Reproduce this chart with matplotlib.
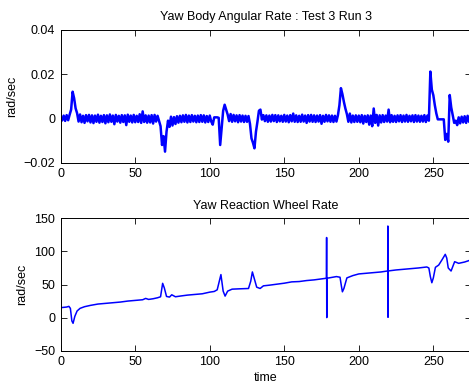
import matplotlib
matplotlib.use("Agg")
import matplotlib.pyplot as plt
import numpy as np

plt.rcParams['font.family'] = ['Liberation Sans', 'DejaVu Sans']
plt.rcParams['font.size'] = 9

# ---------------------------------------------------------------------------
# Data
# ---------------------------------------------------------------------------

# yaw body angular rate, one sample per second (t = 0..275), in milli-rad/sec
body_t = np.arange(0, 276)
body_rate_milli = [
    0.6, -0.9, 1.3, -1.1, 1.5, -0.8, 1.7, 4.0, 12.1, 9.2,        # 0
    4.6, 2.4, -1.4, 1.8, -1.7, 1.2, -2.0, 1.5, -1.3, 1.6,        # 10
    -1.8, 1.4, -2.1, 1.3, -1.5, 1.7, -1.9, 1.2, -1.6, 1.5,       # 20
    -2.2, 1.4, -1.7, 1.8, -1.5, 1.3, -2.6, 1.6, -1.4, 1.2,       # 30
    -1.9, 1.5, -1.6, 1.4, -3.0, 1.7, -1.5, 1.3, -1.8, 1.6,       # 40
    -1.7, 1.2, -1.6, 1.9, -2.0, 3.2, -1.6, 1.4, -1.9, 1.3,       # 50
    -1.8, 1.5, -2.3, 1.6, -1.4, 1.2, -1.1, -3.5, -12.0, -8.0,    # 60
    -15.0, -6.0, -1.0, -3.8, 0.8, -3.2, 0.6, -2.5, 1.0, -1.9,    # 70
    1.2, -1.7, 1.4, -1.5, 1.6, -1.8, 1.3, -1.6, 1.5, -1.4,       # 80
    1.2, -1.7, 1.3, -1.6, 1.5, -1.5, 1.4, -1.8, 1.1, -1.6,       # 90
    1.3, -1.4, -2.8, 0.5, 0.5, 0.5, 0.3, -12.0, -4.0, 3.5,       # 100
    6.2, 4.0, 1.8, -1.2, 2.0, -1.5, 1.6, -1.3, 1.4, -1.7,        # 110
    1.5, -1.4, 1.3, -1.6, 1.2, -1.5, 1.1, -2.5, -9.0, -11.0,     # 120
    -13.5, -6.0, -1.5, 3.5, 4.0, -0.5, 1.5, -1.2, 1.4, -1.5,     # 130
    1.3, -1.4, 1.6, -1.2, 1.5, -1.6, 1.4, -1.3, 1.2, -1.5,       # 140
    1.6, -1.4, 1.3, -1.7, 1.5, -1.3, 2.2, -1.5, 1.4, -1.6,       # 150
    1.2, -1.5, 1.7, -1.4, 1.3, -2.0, 1.5, -1.4, 1.6, -1.5,       # 160
    1.4, -1.6, 1.3, -1.4, 1.5, -2.4, 1.2, -1.5, 1.6, -1.3,       # 170
    1.4, -1.5, 1.3, -1.6, 1.2, -1.4, 1.5, 6.0, 13.7, 11.0,       # 180
    7.5, 4.5, 2.0, -1.5, 2.2, -1.8, 1.3, -1.6, 1.4, -1.5,        # 190
    1.3, -1.7, 1.5, -2.3, 1.2, -1.6, 1.4, -2.8, 1.3, -3.5,       # 200
    4.5, -2.0, 1.6, -3.2, 1.4, -1.8, 1.5, -1.6, 1.3, -1.4,       # 210
    4.0, -1.7, 1.5, -1.5, 1.2, -1.6, 1.4, -1.3, 1.5, -1.6,       # 220
    1.3, -1.4, 1.6, -1.5, 1.2, -1.3, 1.4, -1.6, 1.5, -1.4,       # 230
    1.3, -1.5, 1.2, -1.4, 1.5, -1.6, 1.3, -1.0, 21.2, 13.0,      # 240
    10.5, 6.0, 2.3, -0.4, -0.4, -0.4, -0.4, -0.4, -9.7, -7.0,    # 250
    -10.5, 10.6, 5.0, 1.5, -2.0, -1.0, -3.0, 0.5, -2.2, 0.8,     # 260
    -1.8, 1.0, -2.0, 1.2, -1.5, -2.0,                            # 270
]
body_rate = np.array(body_rate_milli) * 1e-3

# yaw reaction wheel rate (rad/sec)
wheel_t = [0, 2, 4, 5.5, 6.5, 7.5, 8.3, 9.5, 11, 13, 16, 20, 25, 30, 35, 40,
           45, 50, 55, 57, 59, 62, 65, 67, 68.4, 69.5, 71, 73, 74.5, 77, 80,
           85, 90, 95, 100, 103, 105, 107.5, 109, 110.3, 112, 115, 120, 126,
           127.5, 128.6, 130, 131.5, 133.8, 136, 140, 145, 150, 155, 160, 165,
           170, 175, 178.3, 178.4, 178.5, 178.6, 180, 185, 187.4, 188.3, 189,
           190, 192, 196, 200, 205, 210, 215, 219.4, 219.5, 219.6, 219.7, 225,
           230, 235, 240, 245.6, 247, 248, 249, 250, 251.4, 253.6, 256, 258,
           259, 260, 261.9, 264.3, 267, 271, 275]
wheel_rate = [15, 15.5, 16, 17, 14, -5, -8.6, 2, 10, 14, 16.5, 18.5, 20.5,
              21.5, 22.5, 23.5, 25, 26, 27, 29, 27.5, 28.5, 30, 31.5, 51.8,
              45, 32, 31, 34.5, 31.5, 32.5, 34, 35, 36, 38.5, 39.5, 42, 65,
              40, 32.5, 40, 43, 43.5, 44, 55, 69, 58, 46, 44, 48, 49, 50.5, 52,
              54, 54.5, 56, 57, 58.5, 59.5, 121, 0, 59.5, 60, 62, 61, 48, 39,
              44, 60, 63.5, 66, 67, 68, 69, 70.5, 138.4, 0.5, 70.5, 72, 73, 74,
              75, 76.5, 75, 62, 52.7, 60, 76, 79.4, 88, 95.6, 90, 75, 70.4,
              84.5, 82, 84, 87]

x_ticks = [0, 50, 100, 150, 200, 250]
body_yticks = [-0.02, 0, 0.02, 0.04]
body_ylabels = ['\u22120.02', '0', '0.02', '0.04']
wheel_yticks = [-50, 0, 50, 100, 150]
wheel_ylabels = ['\u221250', '0', '50', '100', '150']

# ---------------------------------------------------------------------------
# Figure
# ---------------------------------------------------------------------------

fig = plt.figure(figsize=(4.69, 3.88), dpi=100)
ax1 = fig.add_axes([0.1294, 0.5807, 0.874, 0.342])
ax2 = fig.add_axes([0.1294, 0.0961, 0.874, 0.3412])


def style(ax):
    ax.tick_params(direction='in', length=4, width=0.6, top=True, right=True,
                   labelsize=9, pad=4, colors='black')
    for s in ax.spines.values():
        s.set_linewidth(0.7)
    ax.set_xlim(0, 275)
    ax.set_xticks(x_ticks)


ax1.plot(body_t, body_rate, color='#0000ff', lw=1.8)
style(ax1)
ax1.set_ylim(-0.02, 0.04)
ax1.set_yticks(body_yticks)
ax1.set_yticklabels(body_ylabels)
ax1.set_title('Yaw Body Angular Rate : Test 3 Run 3', fontsize=9, pad=7)
ax1.set_ylabel('rad/sec', fontsize=9)
ax1.yaxis.set_label_coords(-0.105, 0.5)

ax2.plot(wheel_t, wheel_rate, color='#0000ff', lw=1.1)
style(ax2)
ax2.set_ylim(-50, 150)
ax2.set_yticks(wheel_yticks)
ax2.set_yticklabels(wheel_ylabels)
ax2.set_title('Yaw Reaction Wheel Rate', fontsize=9, pad=7)
ax2.set_ylabel('rad/sec', fontsize=9)
ax2.yaxis.set_label_coords(-0.08, 0.5)
ax2.set_xlabel('time', fontsize=9)
ax2.xaxis.set_label_coords(0.5, -0.16)

fig.savefig('out.png', dpi=100)
